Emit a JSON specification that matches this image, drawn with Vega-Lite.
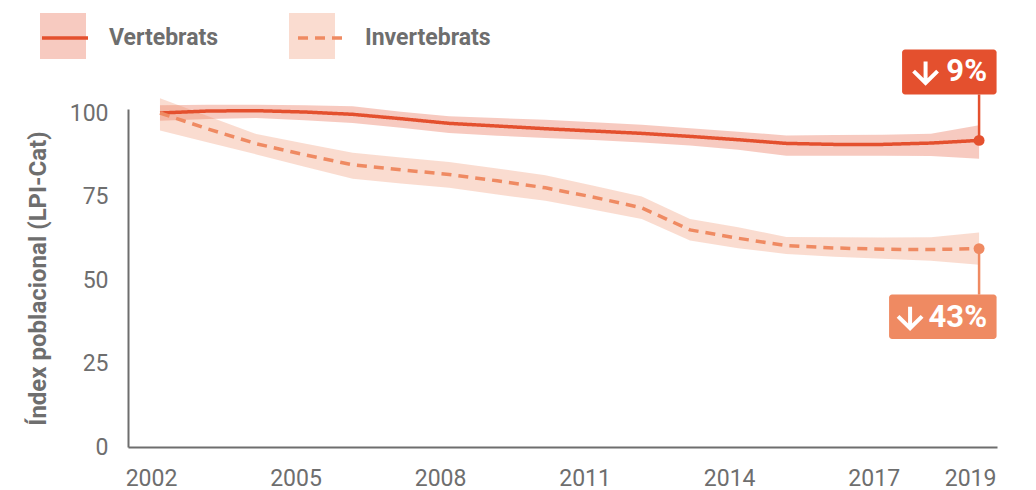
{
  "$schema": "https://vega.github.io/schema/vega-lite/v6.json",
  "width": 869,
  "height": 338,
  "autosize": {"type": "none"},
  "padding": {"left": 128, "top": 109, "right": 39, "bottom": 43},
  "background": "white",
  "config": {"view": {"stroke": null}, "font": "Roboto"},
  "data": {
    "values": [
      {"any": 2002, "grup": "Vertebrats", "banda": "Vertebrats", "valor": 100.0, "min": 97.7, "max": 102.3},
      {"any": 2003, "grup": "Vertebrats", "banda": "Vertebrats", "valor": 100.6, "min": 98.2, "max": 102.5},
      {"any": 2004, "grup": "Vertebrats", "banda": "Vertebrats", "valor": 100.7, "min": 98.5, "max": 102.5},
      {"any": 2005, "grup": "Vertebrats", "banda": "Vertebrats", "valor": 100.3, "min": 97.8, "max": 102.3},
      {"any": 2006, "grup": "Vertebrats", "banda": "Vertebrats", "valor": 99.6, "min": 97.0, "max": 102.0},
      {"any": 2007, "grup": "Vertebrats", "banda": "Vertebrats", "valor": 98.3, "min": 95.6, "max": 100.4},
      {"any": 2008, "grup": "Vertebrats", "banda": "Vertebrats", "valor": 96.9, "min": 94.0, "max": 99.0},
      {"any": 2009, "grup": "Vertebrats", "banda": "Vertebrats", "valor": 96.1, "min": 93.2, "max": 98.5},
      {"any": 2010, "grup": "Vertebrats", "banda": "Vertebrats", "valor": 95.3, "min": 92.5, "max": 98.0},
      {"any": 2011, "grup": "Vertebrats", "banda": "Vertebrats", "valor": 94.6, "min": 91.9, "max": 97.2},
      {"any": 2012, "grup": "Vertebrats", "banda": "Vertebrats", "valor": 93.9, "min": 91.2, "max": 96.5},
      {"any": 2013, "grup": "Vertebrats", "banda": "Vertebrats", "valor": 93.0, "min": 90.3, "max": 95.4},
      {"any": 2014, "grup": "Vertebrats", "banda": "Vertebrats", "valor": 92.0, "min": 89.0, "max": 94.4},
      {"any": 2015, "grup": "Vertebrats", "banda": "Vertebrats", "valor": 90.9, "min": 87.2, "max": 93.3},
      {"any": 2016, "grup": "Vertebrats", "banda": "Vertebrats", "valor": 90.6, "min": 87.2, "max": 93.4},
      {"any": 2017, "grup": "Vertebrats", "banda": "Vertebrats", "valor": 90.6, "min": 87.2, "max": 93.5},
      {"any": 2018, "grup": "Vertebrats", "banda": "Vertebrats", "valor": 91.0, "min": 87.1, "max": 93.8},
      {"any": 2019, "grup": "Vertebrats", "banda": "Vertebrats", "valor": 91.8, "min": 86.3, "max": 96.3, "etiqueta": "9%"},
      {"any": 2002, "grup": "Invertebrats", "banda": "Invertebrats", "valor": 100.0, "min": 94.8, "max": 104.4},
      {"any": 2003, "grup": "Invertebrats", "banda": "Invertebrats", "valor": 95.2, "min": 91.2, "max": 99.0},
      {"any": 2004, "grup": "Invertebrats", "banda": "Invertebrats", "valor": 90.8, "min": 87.6, "max": 93.7},
      {"any": 2005, "grup": "Invertebrats", "banda": "Invertebrats", "valor": 87.5, "min": 83.9, "max": 90.9},
      {"any": 2006, "grup": "Invertebrats", "banda": "Invertebrats", "valor": 84.5, "min": 80.3, "max": 88.1},
      {"any": 2007, "grup": "Invertebrats", "banda": "Invertebrats", "valor": 83.0, "min": 78.9, "max": 86.7},
      {"any": 2008, "grup": "Invertebrats", "banda": "Invertebrats", "valor": 81.6, "min": 77.6, "max": 85.3},
      {"any": 2009, "grup": "Invertebrats", "banda": "Invertebrats", "valor": 79.7, "min": 75.6, "max": 83.4},
      {"any": 2010, "grup": "Invertebrats", "banda": "Invertebrats", "valor": 77.6, "min": 73.7, "max": 81.4},
      {"any": 2011, "grup": "Invertebrats", "banda": "Invertebrats", "valor": 74.8, "min": 71.0, "max": 78.2},
      {"any": 2012, "grup": "Invertebrats", "banda": "Invertebrats", "valor": 71.6, "min": 68.3, "max": 75.0},
      {"any": 2013, "grup": "Invertebrats", "banda": "Invertebrats", "valor": 65.0, "min": 61.8, "max": 68.3},
      {"any": 2014, "grup": "Invertebrats", "banda": "Invertebrats", "valor": 62.5, "min": 59.5, "max": 65.8},
      {"any": 2015, "grup": "Invertebrats", "banda": "Invertebrats", "valor": 60.3, "min": 57.8, "max": 62.9},
      {"any": 2016, "grup": "Invertebrats", "banda": "Invertebrats", "valor": 59.6, "min": 57.0, "max": 62.8},
      {"any": 2017, "grup": "Invertebrats", "banda": "Invertebrats", "valor": 59.2, "min": 56.4, "max": 62.7},
      {"any": 2018, "grup": "Invertebrats", "banda": "Invertebrats", "valor": 59.1, "min": 55.8, "max": 62.8},
      {"any": 2019, "grup": "Invertebrats", "banda": "Invertebrats", "valor": 59.4, "min": 54.6, "max": 64.2, "etiqueta": "43%"}
    ]
  },
  "encoding": {
    "x": {
      "field": "any",
      "type": "quantitative",
      "scale": {"domain": [2001.336, 2019.372], "nice": false, "zero": false},
      "axis": {
        "values": [2002, 2005, 2008, 2011, 2014, 2017, 2019],
        "format": "d",
        "title": null,
        "grid": false,
        "ticks": false,
        "tickSize": 0,
        "labelFont": "Roboto",
        "labelFontSize": 23,
        "labelColor": "#6e6e6e",
        "labelPadding": 20,
        "labelOffset": -9,
        "labelFlush": false,
        "labelOverlap": false,
        "domainColor": "#6e6e6e",
        "domainWidth": 2
      }
    }
  },
  "layer": [
    {
      "mark": {"type": "area", "opacity": 0.3, "interpolate": "linear"},
      "encoding": {
        "y": {
          "field": "min",
          "type": "quantitative",
          "title": "Índex poblacional (LPI-Cat)",
          "scale": {"domain": [0, 101.2], "nice": false},
          "axis": {
            "values": [0, 25, 50, 75, 100],
            "title": "Índex poblacional (LPI-Cat)",
            "grid": false,
            "ticks": false,
            "tickSize": 0,
            "labelFont": "Roboto",
            "labelFontSize": 23,
            "labelColor": "#6e6e6e",
            "labelPadding": 20,
            "domainColor": "#6e6e6e",
            "domainWidth": 2,
            "titleFont": "Roboto",
            "titleFontSize": 24,
            "titleFontWeight": "bold",
            "titleColor": "#6e6e6e",
            "titlePadding": 19,
            "titleLimit": 400
          }
        },
        "y2": {"field": "max"},
        "fill": {
          "field": "banda",
          "type": "nominal",
          "sort": "descending",
          "scale": {"range": ["#e4502e", "#ef8a62"]},
          "legend": {
            "orient": "none",
            "legendX": -88,
            "legendY": -96,
            "direction": "horizontal",
            "title": null,
            "symbolType": "square",
            "symbolSize": 2116,
            "symbolOpacity": 0.3,
            "symbolStrokeWidth": 0,
            "labelExpr": "''",
            "labelFontSize": 1,
            "labelOffset": 0,
            "columnPadding": 203,
            "padding": 0
          }
        }
      }
    },
    {
      "mark": {"type": "line", "strokeWidth": 3.5, "interpolate": "linear"},
      "encoding": {
        "y": {"field": "valor", "type": "quantitative", "title": "Índex poblacional (LPI-Cat)"},
        "stroke": {
          "field": "grup",
          "type": "nominal",
          "sort": "descending",
          "scale": {"range": ["#e4502e", "#ef8a62"]},
          "legend": {
            "orient": "none",
            "legendX": -88,
            "legendY": -96,
            "direction": "horizontal",
            "title": null,
            "symbolType": "stroke",
            "symbolSize": 2116,
            "symbolStrokeWidth": 3.5,
            "labelFont": "Roboto",
            "labelFontSize": 23,
            "labelFontWeight": "bold",
            "labelColor": "#6e6e6e",
            "labelOffset": 19,
            "columnPadding": 72,
            "padding": 0
          }
        },
        "strokeDash": {
          "field": "grup",
          "type": "nominal",
          "sort": "descending",
          "scale": {"range": [[1, 0], [10, 7]]},
          "legend": {
            "orient": "none",
            "legendX": -88,
            "legendY": -96,
            "direction": "horizontal",
            "title": null,
            "symbolType": "stroke",
            "symbolSize": 2116,
            "symbolStrokeWidth": 3.5,
            "labelFont": "Roboto",
            "labelFontSize": 23,
            "labelFontWeight": "bold",
            "labelColor": "#6e6e6e",
            "labelOffset": 19,
            "columnPadding": 72,
            "padding": 0
          }
        }
      }
    },
    {
      "transform": [{"filter": "datum.grup == 'Vertebrats' && datum.any == 2019"}],
      "layer": [
        {
          "mark": {"type": "rule", "color": "#e4502e", "strokeWidth": 2.5, "y2Offset": -46},
          "encoding": {"y": {"field": "valor", "type": "quantitative", "title": "Índex poblacional (LPI-Cat)"}, "y2": {"field": "valor"}}
        },
        {
          "mark": {"type": "rect", "color": "#e4502e", "cornerRadius": 3, "xOffset": -77, "x2Offset": 17.5, "yOffset": -91, "y2Offset": -46},
          "encoding": {"x2": {"field": "any"}, "y": {"field": "valor", "type": "quantitative", "title": "Índex poblacional (LPI-Cat)"}, "y2": {"field": "valor"}}
        },
        {
          "mark": {"type": "point", "filled": true, "opacity": 1, "size": 120, "color": "#e4502e"},
          "encoding": {"y": {"field": "valor", "type": "quantitative", "title": "Índex poblacional (LPI-Cat)"}}
        },
        {
          "mark": {"type": "point", "shape": "M0,-0.9L0,0.85M-1,-0.1L0,0.88L1,-0.1", "filled": false, "opacity": 1, "size": 576, "stroke": "white", "strokeWidth": 4, "strokeCap": "butt", "strokeJoin": "miter", "xOffset": -53.5, "yOffset": -68},
          "encoding": {"y": {"field": "valor", "type": "quantitative", "title": "Índex poblacional (LPI-Cat)"}}
        },
        {
          "mark": {"type": "text", "color": "white", "font": "Roboto", "fontSize": 31, "fontWeight": "bold", "xOffset": 8, "yOffset": -68, "align": "right", "baseline": "middle"},
          "encoding": {"y": {"field": "valor", "type": "quantitative", "title": "Índex poblacional (LPI-Cat)"}, "text": {"field": "etiqueta"}}
        }
      ]
    },
    {
      "transform": [{"filter": "datum.grup == 'Invertebrats' && datum.any == 2019"}],
      "layer": [
        {
          "mark": {"type": "rule", "color": "#ef8a62", "strokeWidth": 2.5, "y2Offset": 46},
          "encoding": {"y": {"field": "valor", "type": "quantitative", "title": "Índex poblacional (LPI-Cat)"}, "y2": {"field": "valor"}}
        },
        {
          "mark": {"type": "rect", "color": "#ef8a62", "cornerRadius": 3, "xOffset": -90, "x2Offset": 17.5, "yOffset": 46, "y2Offset": 90.5},
          "encoding": {"x2": {"field": "any"}, "y": {"field": "valor", "type": "quantitative", "title": "Índex poblacional (LPI-Cat)"}, "y2": {"field": "valor"}}
        },
        {
          "mark": {"type": "point", "filled": true, "opacity": 1, "size": 120, "color": "#ef8a62"},
          "encoding": {"y": {"field": "valor", "type": "quantitative", "title": "Índex poblacional (LPI-Cat)"}}
        },
        {
          "mark": {"type": "point", "shape": "M0,-0.9L0,0.85M-1,-0.1L0,0.88L1,-0.1", "filled": false, "opacity": 1, "size": 576, "stroke": "white", "strokeWidth": 4, "strokeCap": "butt", "strokeJoin": "miter", "xOffset": -69, "yOffset": 69},
          "encoding": {"y": {"field": "valor", "type": "quantitative", "title": "Índex poblacional (LPI-Cat)"}}
        },
        {
          "mark": {"type": "text", "color": "white", "font": "Roboto", "fontSize": 31, "fontWeight": "bold", "xOffset": 8, "yOffset": 69, "align": "right", "baseline": "middle"},
          "encoding": {"y": {"field": "valor", "type": "quantitative", "title": "Índex poblacional (LPI-Cat)"}, "text": {"field": "etiqueta"}}
        }
      ]
    }
  ]
}
